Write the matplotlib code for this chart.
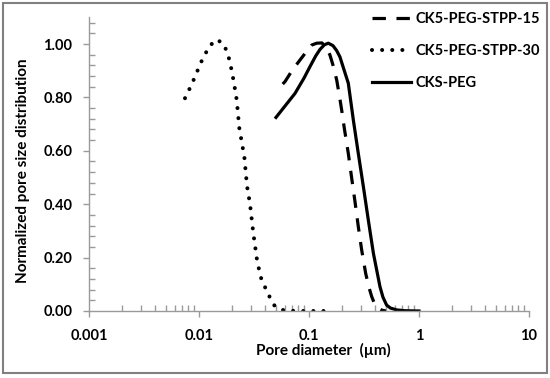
import matplotlib
matplotlib.use("Agg")
import matplotlib.pyplot as plt
from matplotlib.patches import Rectangle
from matplotlib.ticker import FixedLocator, NullFormatter, LogLocator

plt.rcParams['font.family'] = ['Lato', 'DejaVu Sans']
plt.rcParams['font.weight'] = 'bold'

# CK5-PEG-STPP-15 (dashed)
x15 = [0.0577, 0.0605, 0.07, 0.0828, 0.095, 0.1058, 0.1175, 0.131, 0.142, 0.155, 0.166,
       0.1786, 0.19, 0.2, 0.2095, 0.2277, 0.2445, 0.262, 0.2807, 0.3013, 0.3275, 0.35,
       0.3715, 0.39, 0.42, 0.46, 0.5]
y15 = [0.850, 0.859, 0.900, 0.940, 0.972, 0.996, 1.003, 1.004, 0.990, 0.959, 0.918,
       0.865, 0.800, 0.742, 0.684, 0.590, 0.497, 0.409, 0.316, 0.228, 0.141, 0.090,
       0.054, 0.032, 0.012, 0.003, 0.0]

# CK5-PEG-STPP-30 (dotted)
x30 = [0.00746, 0.00816, 0.00888, 0.0096, 0.01036, 0.01134, 0.0125, 0.01449, 0.01677,
       0.01808, 0.01913, 0.02066, 0.02203, 0.02325, 0.02582, 0.0273, 0.0291, 0.03116,
       0.0339, 0.03717, 0.04065, 0.04419, 0.04875, 0.0565, 0.075, 0.1, 0.155]
y30 = [0.797, 0.830, 0.863, 0.896, 0.929, 0.961, 0.993, 1.017, 1.000,
       0.967, 0.933, 0.861, 0.790, 0.685, 0.578, 0.469, 0.400, 0.292,
       0.183, 0.114, 0.082, 0.050, 0.019, 0.004, 0.0, 0.0, 0.0]

# CKS-PEG (solid)
xpeg = [0.0501, 0.0746, 0.09, 0.102, 0.115, 0.126, 0.138, 0.1497, 0.165, 0.178, 0.191,
        0.205, 0.2277, 0.253, 0.2807, 0.312, 0.346, 0.385, 0.4418, 0.47, 0.508, 0.55,
        0.627, 0.75, 1.0]
ypeg = [0.725, 0.815, 0.872, 0.915, 0.955, 0.980, 0.997, 1.003, 0.994, 0.976, 0.952,
        0.912, 0.853, 0.715, 0.590, 0.466, 0.341, 0.216, 0.091, 0.052, 0.022, 0.011,
        0.004, 0.001, 0.0]

labels = ['CK5-PEG-STPP-15', 'CK5-PEG-STPP-30', 'CKS-PEG']
yticks = [0.0, 0.2, 0.4, 0.6, 0.8, 1.0]
xticks = [0.001, 0.01, 0.1, 1, 10]
xticklabels = ['0.001', '0.01', '0.1', '1', '10']

W, H = 550, 378
fig = plt.figure(figsize=(W/100, H/100), dpi=100)
ax = fig.add_axes([89/W, 1-311/H, (529-89)/W, (311-17.3)/H])

ax.plot(x15, y15, color='black', lw=2.3, linestyle=(0, (4.2, 3.3)), dash_capstyle='butt',
        solid_joinstyle='round', label=labels[0])
ax.plot(x30, y30, color='black', lw=2.9, linestyle=(0, (0.01, 2.5)), dash_capstyle='round',
        label=labels[1])
ax.plot(xpeg, ypeg, color='black', lw=2.3, linestyle='-', solid_joinstyle='round',
        label=labels[2])

ax.set_xscale('log')
ax.set_xlim(0.001, 10)
ax.set_ylim(0, 1.1)

ax.set_xticks(xticks)
ax.set_xticklabels(xticklabels)
ax.xaxis.set_minor_locator(LogLocator(base=10, subs=[2, 3, 4, 5, 6, 7, 8, 9]))
ax.xaxis.set_minor_formatter(NullFormatter())
ax.set_yticks(yticks)
ax.set_yticklabels([f'{v:.2f}' for v in yticks])
ax.yaxis.set_minor_locator(FixedLocator([i*0.04 for i in range(28)]))

gray = '#9a9a9a'
for s in ['top', 'right']:
    ax.spines[s].set_visible(False)
for s in ['left', 'bottom']:
    ax.spines[s].set_color(gray)
    ax.spines[s].set_linewidth(1.0)

ax.tick_params(which='major', direction='out', length=4, width=1, color=gray,
               labelsize=10.5, pad=8)
ax.tick_params(which='minor', direction='in', length=4, width=1, color=gray)
for t in ax.get_xticklabels() + ax.get_yticklabels():
    t.set_fontweight('bold')
ax.tick_params(axis='x', pad=9)

fig.text(323/W, 1-350/H, 'Pore diameter  (µm)', ha='center', va='center',
         fontsize=11, fontweight='bold')
fig.text(23/W, 1-171/H, 'Normalized pore size distribution', ha='center', va='center',
         rotation=90, fontsize=11, fontweight='bold')

leg = ax.legend(loc='upper left', bbox_to_anchor=(372/W, 1-12/H), bbox_transform=fig.transFigure,
                frameon=False, fontsize=10.5, handlelength=2.7, handletextpad=0.3,
                labelspacing=1.25, borderaxespad=0, borderpad=0)
for t in leg.get_texts():
    t.set_fontweight('bold')

fig.patches.append(Rectangle((3/W, 5/H), 544/W, 370/H, transform=fig.transFigure,
                             fill=False, edgecolor='#808080', lw=1.5))

fig.savefig('out.png', dpi=100)
